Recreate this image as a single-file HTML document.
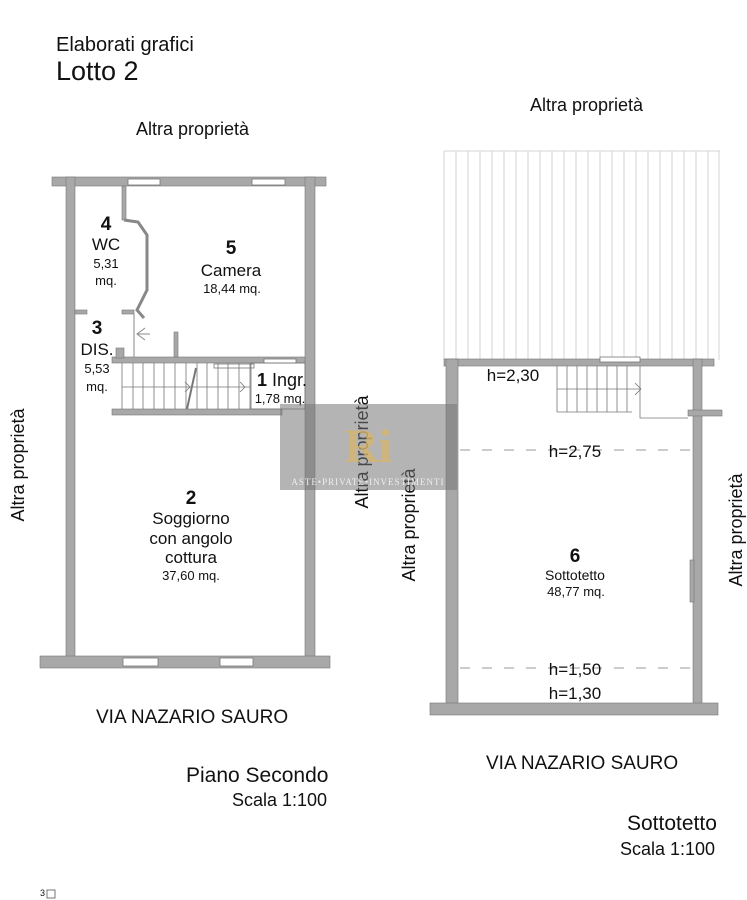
<!DOCTYPE html>
<html><head><meta charset="utf-8"><style>
html,body{margin:0;padding:0;background:#fff;}
svg{display:block;font-family:"Liberation Sans",Arial,sans-serif;}
</style></head><body>
<svg width="747" height="900" viewBox="0 0 747 900" xmlns="http://www.w3.org/2000/svg">
<g fill="#111">
<text x="56" y="51" font-size="20">Elaborati grafici</text>
<text x="56" y="80" font-size="27">Lotto 2</text>
<text x="136" y="135" font-size="18">Altra proprietà</text>
<text x="530" y="111" font-size="18">Altra proprietà</text>
<text x="96" y="723" font-size="19">VIA NAZARIO SAURO</text>
<text x="486" y="769" font-size="19">VIA NAZARIO SAURO</text>
<text x="186" y="782" font-size="21">Piano Secondo</text>
<text x="232" y="806" font-size="18">Scala 1:100</text>
<text x="627" y="830" font-size="21">Sottotetto</text>
<text x="620" y="855" font-size="18">Scala 1:100</text>
<text x="40" y="896" font-size="9">3</text>
<rect x="47" y="890" width="8" height="8" fill="none" stroke="#555" stroke-width="0.8"/>
<text transform="translate(24,465) rotate(-90)" font-size="18" text-anchor="middle">Altra proprietà</text>
<text transform="translate(368,452) rotate(-90)" font-size="18" text-anchor="middle">Altra proprietà</text>
<text transform="translate(415,525) rotate(-90)" font-size="18" text-anchor="middle">Altra proprietà</text>
<text transform="translate(742,530) rotate(-90)" font-size="18" text-anchor="middle">Altra proprietà</text>
</g>
<!-- hatch -->
<g stroke="#d4d4d4" stroke-width="1">
<line x1="444" y1="151" x2="720" y2="151"/>
<line x1="444" y1="151" x2="444" y2="360"/>
<line x1="456" y1="151" x2="456" y2="360"/><line x1="468" y1="151" x2="468" y2="360"/><line x1="480" y1="151" x2="480" y2="360"/><line x1="492" y1="151" x2="492" y2="360"/><line x1="504" y1="151" x2="504" y2="360"/><line x1="516" y1="151" x2="516" y2="360"/><line x1="528" y1="151" x2="528" y2="360"/><line x1="540" y1="151" x2="540" y2="360"/><line x1="552" y1="151" x2="552" y2="360"/><line x1="564" y1="151" x2="564" y2="360"/><line x1="576" y1="151" x2="576" y2="360"/><line x1="588" y1="151" x2="588" y2="360"/><line x1="600" y1="151" x2="600" y2="360"/><line x1="612" y1="151" x2="612" y2="360"/><line x1="624" y1="151" x2="624" y2="360"/><line x1="636" y1="151" x2="636" y2="360"/><line x1="648" y1="151" x2="648" y2="360"/><line x1="660" y1="151" x2="660" y2="360"/><line x1="672" y1="151" x2="672" y2="360"/><line x1="684" y1="151" x2="684" y2="360"/><line x1="696" y1="151" x2="696" y2="360"/><line x1="708" y1="151" x2="708" y2="360"/><line x1="719" y1="151" x2="719" y2="360"/>
</g>
<g fill="#a8a8a8" stroke="#777" stroke-width="0.6">
<rect x="52" y="177" width="274" height="9"/>
<rect x="66" y="177" width="9" height="490"/>
<rect x="305" y="177" width="10" height="490"/>
<rect x="40" y="656" width="290" height="12"/>
<rect x="112" y="357" width="193" height="6"/>
<rect x="112" y="409" width="170" height="6"/>
<rect x="122" y="186" width="4" height="34"/>
<rect x="75" y="310" width="12" height="4"/>
<rect x="122" y="310" width="12" height="4"/>
<rect x="174" y="332" width="4" height="25"/>
<rect x="116" y="348" width="8" height="10"/>
<rect x="444" y="359" width="270" height="7"/>
<rect x="446" y="359" width="12" height="350"/>
<rect x="693" y="359" width="9" height="350"/>
<rect x="688" y="410" width="34" height="6"/>
<rect x="430" y="703" width="288" height="12"/>
<rect x="690" y="560" width="4" height="42"/>
</g>
<g fill="#fff" stroke="#777" stroke-width="0.8">
<rect x="128" y="179" width="32" height="6"/><rect x="252" y="179" width="33" height="6"/>
<rect x="123" y="658" width="35" height="8"/><rect x="220" y="658" width="33" height="8"/>
<rect x="214" y="364" width="40" height="4"/><rect x="264" y="359" width="32" height="4"/>
<rect x="600" y="357" width="40" height="5"/>
</g>
<polyline points="124,220 138,222 147,235 147,290 137,310 144,318" fill="none" stroke="#888" stroke-width="3"/>
<line x1="134" y1="314" x2="134" y2="357" stroke="#888" stroke-width="1"/>
<polyline points="145,328 137,334 145,340" fill="none" stroke="#888"/>
<line x1="137" y1="334" x2="150" y2="334" stroke="#888"/>
<g stroke="#777" stroke-width="0.8" fill="none">
<line x1="122" y1="363" x2="122" y2="409"/>
<line x1="133" y1="363" x2="133" y2="409"/><line x1="143" y1="363" x2="143" y2="409"/><line x1="154" y1="363" x2="154" y2="409"/><line x1="164" y1="363" x2="164" y2="409"/><line x1="175" y1="363" x2="175" y2="409"/><line x1="186" y1="363" x2="186" y2="409"/><line x1="197" y1="363" x2="197" y2="409"/><line x1="207" y1="363" x2="207" y2="409"/><line x1="218" y1="363" x2="218" y2="409"/><line x1="228" y1="363" x2="228" y2="409"/><line x1="239" y1="363" x2="239" y2="409"/><line x1="250" y1="363" x2="250" y2="409"/>
<line x1="122" y1="387" x2="250" y2="387"/>
<line x1="196" y1="368" x2="187" y2="409" stroke-width="2"/>
<polyline points="185,382 190,387 185,392"/><polyline points="240,382 245,387 240,392"/>
<rect x="251" y="363" width="54" height="46"/>
<line x1="557" y1="366" x2="557" y2="412"/><line x1="567" y1="366" x2="567" y2="412"/><line x1="577" y1="366" x2="577" y2="412"/><line x1="587" y1="366" x2="587" y2="412"/><line x1="597" y1="366" x2="597" y2="412"/><line x1="607" y1="366" x2="607" y2="412"/><line x1="617" y1="366" x2="617" y2="412"/><line x1="627" y1="366" x2="627" y2="412"/>
<line x1="557" y1="412" x2="632" y2="412"/><line x1="557" y1="389" x2="640" y2="389"/>
<polyline points="635,383 641,389 635,395"/>
<polyline points="640,366 640,418 688,418"/>
</g>
<g stroke="#999" stroke-width="1" stroke-dasharray="10,12">
<line x1="460" y1="450" x2="692" y2="450"/>
<line x1="460" y1="668" x2="692" y2="668"/>
</g>
<g fill="#111" text-anchor="middle">
<text x="106" y="230" font-size="19" font-weight="bold">4</text>
<text x="106" y="250" font-size="17">WC</text>
<text x="106" y="268" font-size="13">5,31</text>
<text x="106" y="285" font-size="13">mq.</text>
<text x="231" y="254" font-size="19" font-weight="bold">5</text>
<text x="231" y="276" font-size="17">Camera</text>
<text x="232" y="293" font-size="13">18,44 mq.</text>
<text x="97" y="334" font-size="19" font-weight="bold">3</text>
<text x="97" y="355" font-size="17">DIS.</text>
<text x="97" y="373" font-size="13">5,53</text>
<text x="97" y="391" font-size="13">mq.</text>
<text x="282" y="386" font-size="18"><tspan font-weight="bold">1</tspan> Ingr.</text>
<text x="280" y="403" font-size="13">1,78 mq.</text>
<text x="191" y="504" font-size="19" font-weight="bold">2</text>
<text x="191" y="524" font-size="17">Soggiorno</text>
<text x="191" y="544" font-size="17">con angolo</text>
<text x="191" y="563" font-size="17">cottura</text>
<text x="191" y="580" font-size="13">37,60 mq.</text>
<text x="575" y="562" font-size="19" font-weight="bold">6</text>
<text x="575" y="580" font-size="14">Sottotetto</text>
<text x="576" y="596" font-size="13">48,77 mq.</text>
<text x="575" y="457" font-size="17">h=2,75</text>
<text x="575" y="675" font-size="17">h=1,50</text>
<text x="575" y="699" font-size="17">h=1,30</text>
<text x="513" y="381" font-size="17">h=2,30</text>
</g>
<rect x="280" y="404" width="177" height="86" fill="#777" opacity="0.55"/>
<text x="368" y="462" font-size="48" font-weight="bold" font-family="Liberation Serif,serif" fill="#d9b56a" opacity="0.75" text-anchor="middle">Ri</text>
<text x="368" y="485" font-size="9" font-family="Liberation Serif,serif" fill="#eee" text-anchor="middle" letter-spacing="1">ASTE•PRIVATE•INVESTIMENTI</text>
</svg>
</body></html>
